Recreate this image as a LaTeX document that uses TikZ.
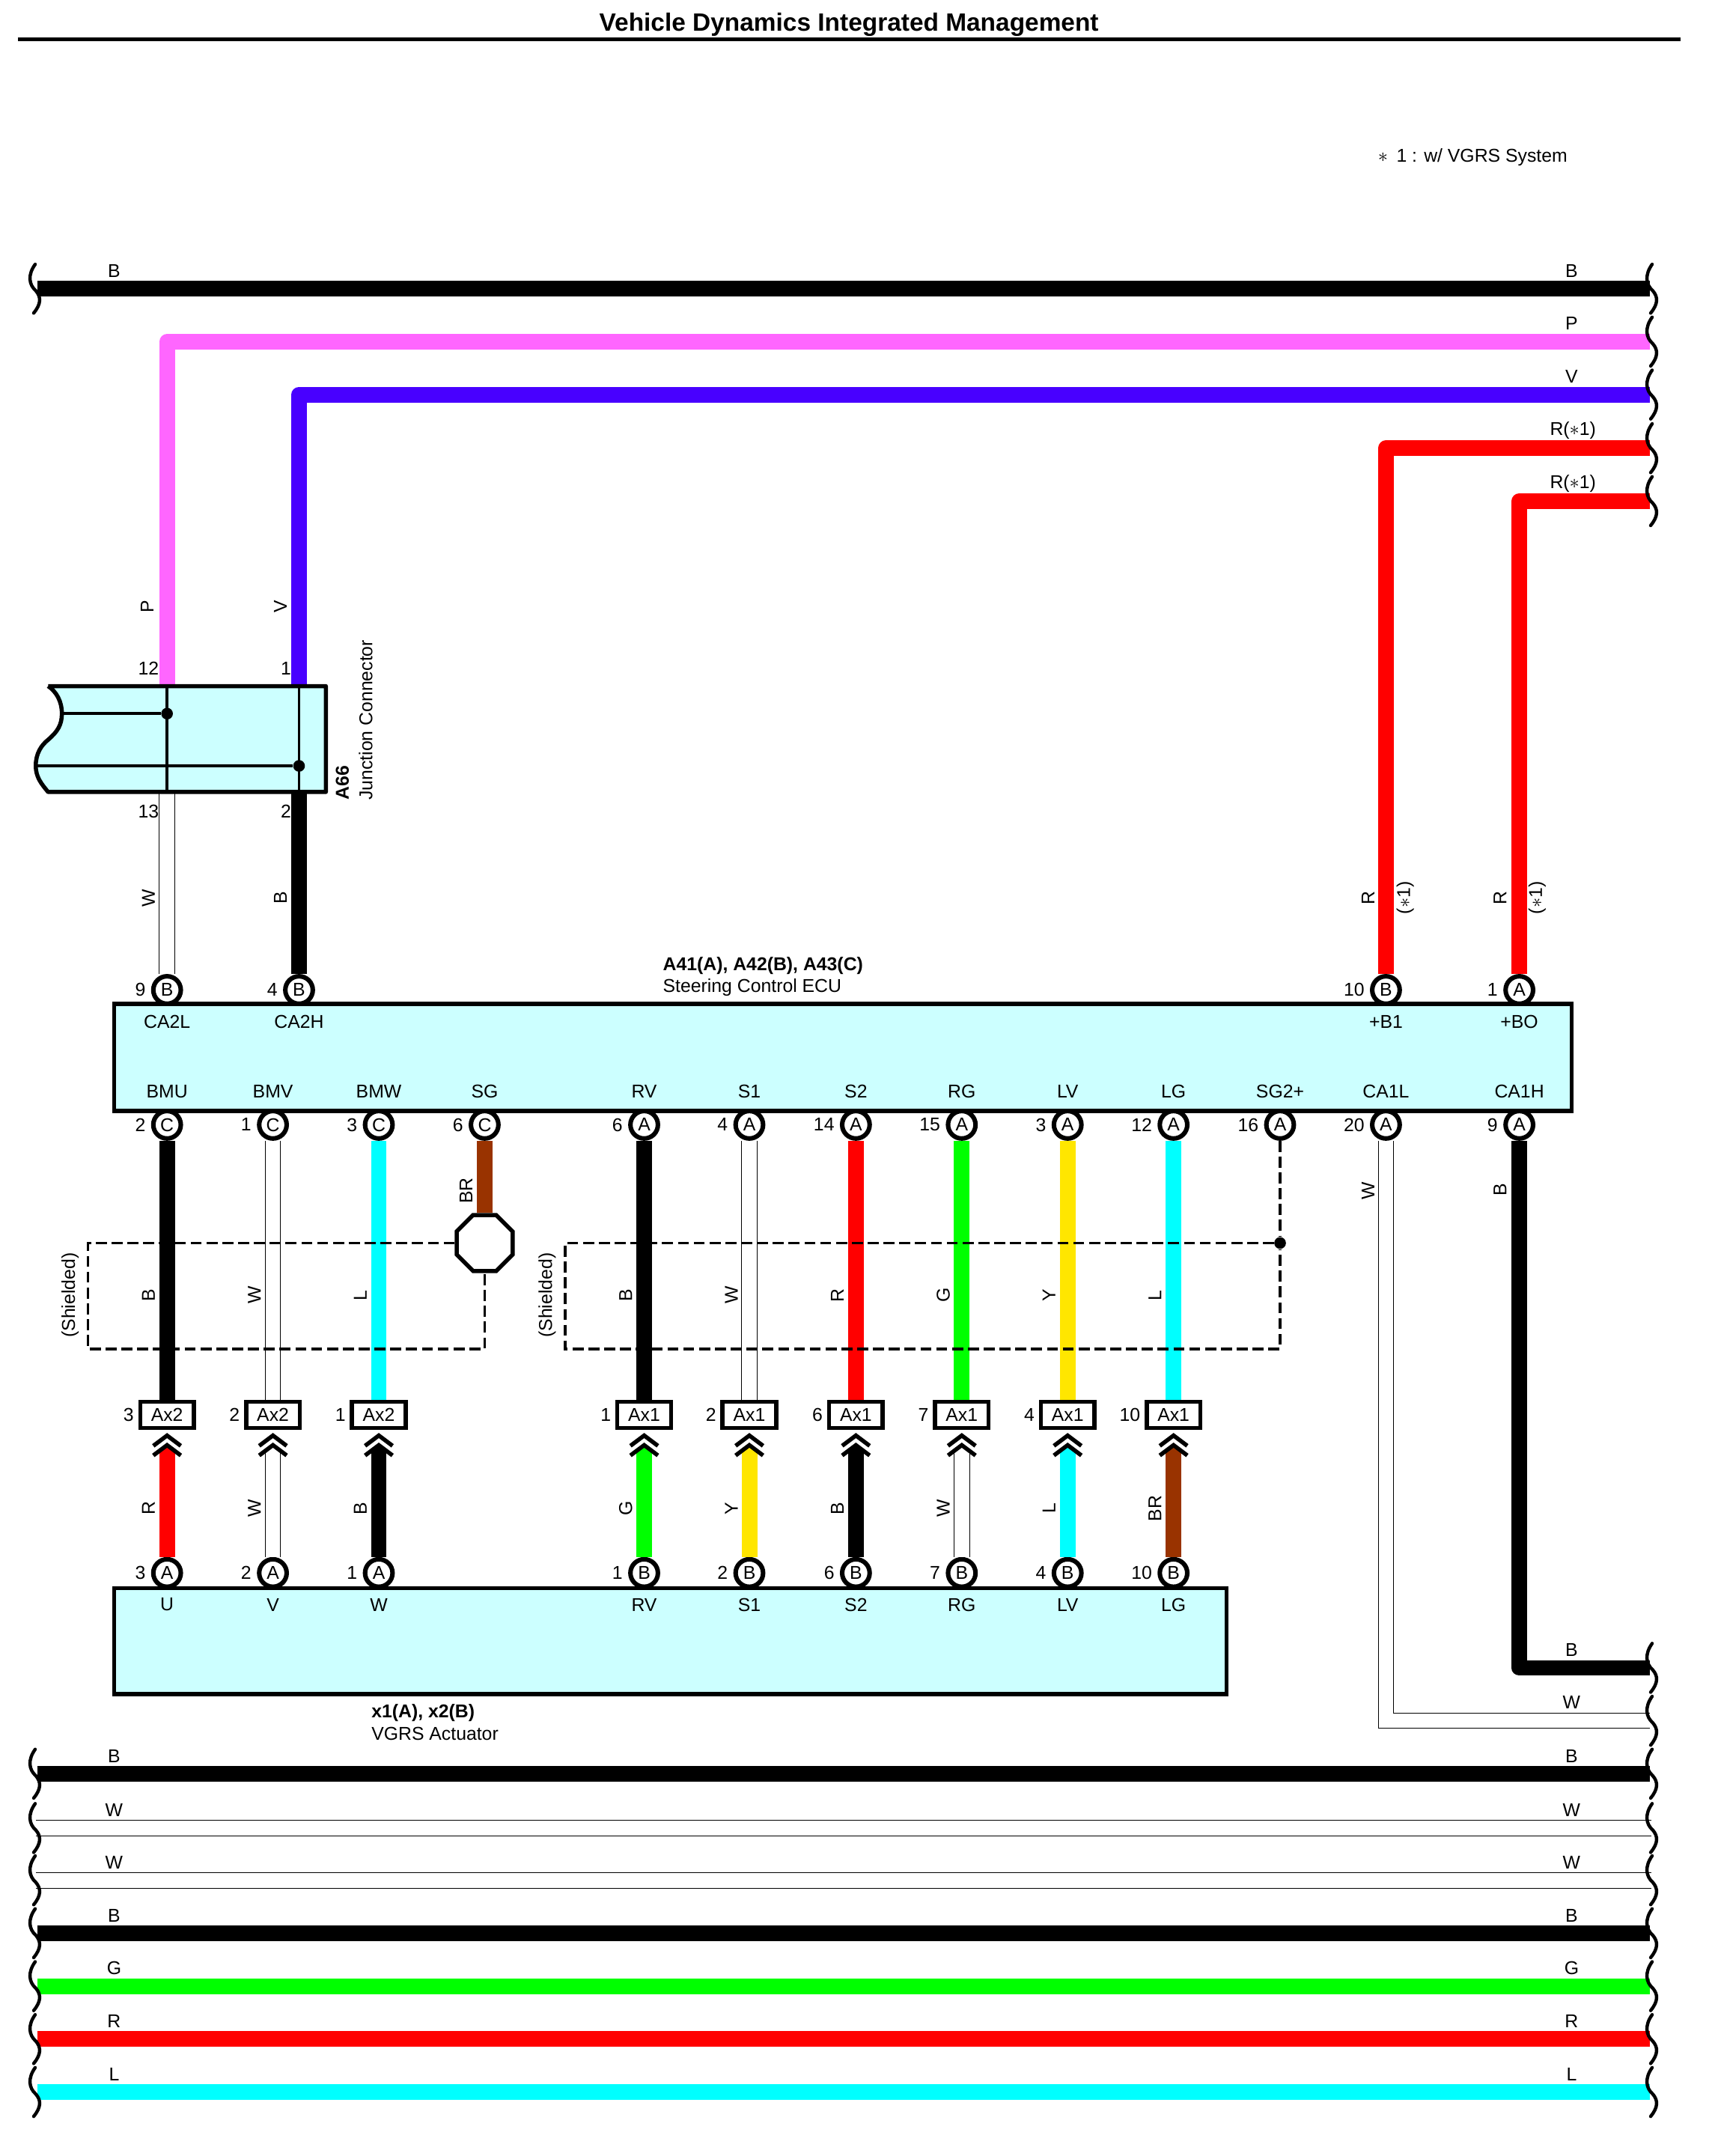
\documentclass[tikz,border=0pt]{standalone}
\usepackage{fontspec}
\setmainfont{Liberation Sans}
\usetikzlibrary{shapes.geometric, positioning, calc}
\definecolor{WireB}{RGB}{0, 0, 0}
\definecolor{WireP}{RGB}{255, 102, 255}
\definecolor{WireV}{RGB}{72, 0, 255}
\definecolor{WireR}{RGB}{255, 0, 0}
\definecolor{WireG}{RGB}{0, 255, 0}
\definecolor{WireL}{RGB}{0, 255, 255}
\definecolor{WireY}{RGB}{255, 230, 0}
\definecolor{WireBR}{RGB}{153, 51, 0}
\definecolor{BoxFill}{RGB}{204, 255, 255}

\begin{document}
\begin{tikzpicture}[
    x=1pt, y=-1pt,
    font=\fontsize{13.5}{15}\selectfont,
    % --- WIRES ---
    wire/.style={line width=11.4pt, line join=round, draw=Wire#1},
    whitewire/.style={draw=black, line width=0.55pt, double=white, double distance=10.6pt, line join=miter},
    % --- CONNECTORS ---
    pinbox/.style={circle, draw, fill=white, line width=3.3pt, minimum size=20pt, inner sep=0pt},
    plugbox/.style={rectangle, draw, fill=white, line width=3pt, minimum width=39pt, minimum height=19pt, inner sep=0pt},
    unit/.style={rectangle, draw, fill=BoxFill, line width=3pt, anchor=north west, inner sep=0pt, outer sep=0pt},
    shield/.style={line width=2pt, dash pattern=on 8pt off 3.5pt},
    % --- TEXT ---
    vlabel/.style={rotate=90, inner sep=0pt},
    hlabel/.style={inner sep=0pt},
    % --- WIRE ENDS ---
    breakend/.pic={\draw[line width=2.4pt, line cap=round] (-0.4,-17.8) .. controls (-6,-10) and (-5,-3) .. (0,1.4) .. controls (4,6) and (4,11) .. (-1.5,17.7);}
]

\useasboundingbox (0,0) rectangle (1249.3,1568);

% --- TITLE ---
\node (title) [hlabel, font=\fontsize{18.2}{20}\selectfont\bfseries] at (617.5,18) {Vehicle Dynamics Integrated Management};
\coordinate (ruleL) at (13,28.5);
\coordinate (ruleR) at (1222,28.5);
\draw [line width=3pt] (ruleL) -- (ruleR);
\node (note) [hlabel, anchor=west] at (1002,114.5) {$\ast$\hspace{2.5pt} 1 : w/ VGRS System};

% --- BUS ENDS ---
\foreach \yy/\nm in {248.5/busP, 287/busV, 326/busRa, 364.5/busRb, 1213/busC, 1251.5/busW}{
    \coordinate (\nm) at (1200,\yy);
}

% Full width buses
\foreach \yy/\nm/\col in {210/topB/B, 1290/lowB/B, 1406/lowBb/B, 1444.5/lowG/G, 1483/lowR/R, 1521.5/lowL/L}{
    \coordinate (\nm L) at (27,\yy);
    \coordinate (\nm R) at (1200,\yy);
    \draw [wire=\col] (\nm L) -- (\nm R);
    \node (\nm T) [hlabel] at (83,\yy-13) {\col};
    \node (\nm U) [hlabel] at (1143,\yy-13) {\col};
}
\foreach \yy/\nm in {1329.5/lowWa, 1367.5/lowWb}{
    \coordinate (\nm L) at (26,\yy);
    \coordinate (\nm R) at (1201,\yy);
    \draw [whitewire] (\nm L) -- (\nm R);
    \node (\nm T) [hlabel] at (83,\yy-13) {W};
    \node (\nm U) [hlabel] at (1143,\yy-13) {W};
}

% --- JUNCTION TERMINALS ---
\coordinate (jP) at (121.5,499);
\coordinate (jV) at (217.5,499);
\coordinate (jW) at (121.5,576);
\coordinate (jB) at (217.5,576);

% --- TOP PINS ---
\foreach \xx/\nm/\ltr/\pnum in {121.5/pinCAL/B/9, 217.5/pinCAH/B/4, 1008/pinBa/B/10, 1105/pinBO/A/1}{
    \node (\nm) [pinbox] at (\xx,720) {\ltr};
    \node [hlabel, anchor=east] at (\xx-15.5,720) {\pnum};
}

% --- ECU LOWER PINS ---
\foreach \xx/\nm/\ltr/\pnum in {121.5/pBMU/C/2, 198.5/pBMV/C/1, 275.5/pBMW/C/3, 352.5/pSG/C/6, 468.5/pRV/A/6, 545/pSa/A/4, 622.5/pSb/A/14, 699.5/pRG/A/15, 776.5/pLV/A/3, 853.5/pLG/A/12, 931/pSGp/A/16, 1008/pCAL/A/20, 1105/pCAH/A/9}{
    \node (\nm) [pinbox] at (\xx,818) {\ltr};
    \node [hlabel, anchor=east] at (\xx-15.5,818) {\pnum};
}

% --- PLUGS AND ACTUATOR PINS ---
\foreach \xx/\nm/\plugname/\plugnum/\ltr/\pnum in {121.5/U/Ax2/3/A/3, 198.5/V/Ax2/2/A/2, 275.5/W/Ax2/1/A/1, 468.5/RV/Ax1/1/B/1, 545/Sa/Ax1/2/B/2, 622.5/Sb/Ax1/6/B/6, 699.5/RG/Ax1/7/B/7, 776.5/LV/Ax1/4/B/4, 853.5/LG/Ax1/10/B/10}{
    \node (act\nm) [pinbox] at (\xx,1144) {\ltr};
    \node [hlabel, anchor=east] at (\xx-15.5,1144) {\pnum};
    \node (plug\nm) [plugbox] at (\xx,1029) {\plugname};
    \node [hlabel, anchor=east] at (\xx-24,1029) {\plugnum};
    \coordinate (tip\nm) at (\xx,1051);
}

% --- CONNECTIONS ---
\draw [wire=P] (busP) -| (jP);
\draw [wire=V] (busV) -| (jV);
\draw [wire=R] (busRa) -| (pinBa);
\draw [wire=R] (busRb) -| (pinBO);
\draw [whitewire] (jW) -- (pinCAL);
\draw [wire=B] (jB) -- (pinCAH);
\draw [wire=B] (pCAH) |- (busC);
\draw [whitewire] (pCAL) |- (busW);

% ECU to plug
\draw [wire=B] (pBMU) -- (plugU);
\draw [whitewire] (pBMV) -- (plugV);
\draw [wire=L] (pBMW) -- (plugW);
\draw [wire=B] (pRV) -- (plugRV);
\draw [whitewire] (pSa) -- (plugSa);
\draw [wire=R] (pSb) -- (plugSb);
\draw [wire=G] (pRG) -- (plugRG);
\draw [wire=Y] (pLV) -- (plugLV);
\draw [wire=L] (pLG) -- (plugLG);

% Plug to actuator
\foreach \nm/\col in {U/R, W/B, RV/G, Sa/Y, Sb/B, LV/L, LG/BR}{
    \draw [wire=\col] (act\nm) -- (tip\nm);
}
\foreach \nm in {V, RG}{
    \draw [whitewire] (act\nm) -- (tip\nm);
}
\foreach \nm in {U, V, W, RV, Sa, Sb, RG, LV, LG}{
    \fill [white] ($(tip\nm)+(-12,8)$) -- (tip\nm) -- ($(tip\nm)+(12,8)$) -- ($(tip\nm)+(12,-10)$) -- ($(tip\nm)+(-12,-10)$) -- cycle;
    \draw [line width=3pt] ($(tip\nm)+(-10,0.5)$) -- ($(tip\nm)+(0,-7)$) -- ($(tip\nm)+(10,0.5)$);
    \draw [line width=3pt] ($(tip\nm)+(-10,7.5)$) -- (tip\nm) -- ($(tip\nm)+(10,7.5)$);
}

% --- SHIELDS ---
\node (gnd) [regular polygon, regular polygon sides=8, draw, fill=white, line width=3pt, minimum size=44pt, inner sep=0pt] at (352.5,904) {};
\draw [wire=BR] (pSG) -- (gnd);
\draw [shield] (gnd.west) -- (64,904) -- (64,981) -- (352.5,981) -- (gnd.south);
\node (dotC) [circle, fill, inner sep=0pt, minimum size=8.5pt] at (931,904) {};
\draw [shield] (pSGp) -- (dotC) -- (411,904) -- (411,981) -- (931,981) -- (dotC);

% --- ECU AND ACTUATOR ---
\node (ecu) [unit, minimum width=1060pt, minimum height=78pt] at (83,730) {};
\node (actuator) [unit, minimum width=809pt, minimum height=77pt] at (83,1155) {};
\foreach \xx/\sig in {121.5/CA2L, 217.5/CA2H, 1008/+B1, 1105/+BO}{
    \node [hlabel] at (\xx,743) {\sig};
}
\foreach \xx/\sig in {121.5/BMU, 198.5/BMV, 275.5/BMW, 352.5/SG, 468.5/RV, 545/S1, 622.5/S2, 699.5/RG, 776.5/LV, 853.5/LG, 931/SG2+, 1008/CA1L, 1105/CA1H}{
    \node [hlabel] at (\xx,794) {\sig};
}
\foreach \xx/\sig in {121.5/U, 198.5/V, 275.5/W, 468.5/RV, 545/S1, 622.5/S2, 699.5/RG, 776.5/LV, 853.5/LG}{
    \node [hlabel] at (\xx,1167) {\sig};
}

% --- JUNCTION CONNECTOR ---
\draw [line width=3pt, fill=BoxFill, line join=round] (35,499) -- (237,499) -- (237,576) -- (35,576)
    .. controls (30,570) and (26,565) .. (26,557)
    .. controls (26,548) and (30,542) .. (35,538)
    .. controls (42,532) and (45,527) .. (45,519)
    .. controls (45,510) and (41,503) .. (35,499);
\draw [line width=2pt] (jP) -- (jW);
\draw [line width=2pt] (jV) -- (jB);
\node (dotA) [circle, fill, inner sep=0pt, minimum size=8.5pt] at (121.5,519) {};
\node (dotB) [circle, fill, inner sep=0pt, minimum size=8.5pt] at (217.5,557) {};
\draw [line width=2pt] (45,519) -- (dotA);
\draw [line width=2pt] (26,557) -- (dotB);
\node (a66) [vlabel, anchor=west, font=\fontsize{13.5}{15}\selectfont\bfseries] at (249,582) {A66};
\node (a66t) [vlabel, anchor=west] at (266,582) {Junction Connector};
\foreach \xx/\yy/\txt in {108/486/12, 208/486/1, 108/590/13, 208/590/2}{
    \node [hlabel] at (\xx,\yy) {\txt};
}

% --- WIRE END BREAKS ---
\foreach \yy in {210, 248.5, 287, 326, 364.5, 1213, 1251.5, 1290, 1329.5, 1367.5, 1406, 1444.5, 1483, 1521.5}{
    \pic at (1202,\yy) {breakend};
}
\foreach \yy in {210, 1290, 1329.5, 1367.5, 1406, 1444.5, 1483, 1521.5}{
    \pic at (26,\yy) {breakend};
}

% --- LABELS ---
\foreach \xx/\yy/\txt in {1143/235/P, 1143/274/V, 1144/313/R(${\ast}$1), 1144/352/R(${\ast}$1), 1143/1200/B, 1143/1238/W}{
    \node [hlabel] at (\xx,\yy) {\txt};
}
\foreach \xx/\yy/\txt in {107/441/P, 204/441/V, 108/653/W, 204/653/B, 995/653/R, 1022/653/(${\ast}$1), 1091/653/R, 1118/653/(${\ast}$1), 995/866/W, 1091/865/B, 339/866/BR, 51/942/(Shielded), 398/942/(Shielded), 108/942/B, 185/942/W, 262/942/L, 455/942/B, 532/942/W, 609/942/R, 686/942/G, 763/942/Y, 840/942/L, 108/1097/R, 185/1097/W, 262/1097/B, 455/1097/G, 532/1097/Y, 609/1097/B, 686/1097/W, 763/1097/L, 840/1097/BR}{
    \node [vlabel] at (\xx,\yy) {\txt};
}
\node (ecuname) [hlabel, anchor=west, font=\fontsize{13.5}{15}\selectfont\bfseries] at (482,702.5) {A41(A), A42(B), A43(C)};
\node (ecutext) [hlabel, anchor=west] at (482,718) {Steering Control ECU};
\node (actname) [hlabel, anchor=west, font=\fontsize{13.5}{15}\selectfont\bfseries] at (270,1245.5) {x1(A), x2(B)};
\node (acttext) [hlabel, anchor=west] at (270,1261) {VGRS Actuator};

\end{tikzpicture}
\end{document}
